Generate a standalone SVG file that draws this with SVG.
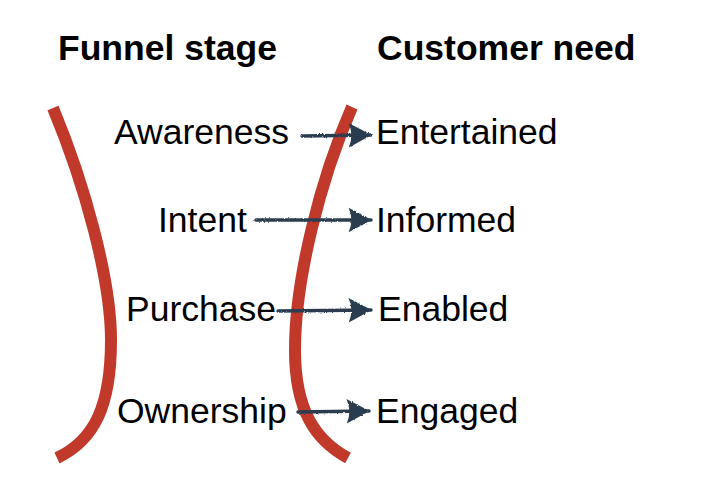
<svg xmlns="http://www.w3.org/2000/svg" width="702" height="496" viewBox="0 0 702 496">
<style>
.hd{font-family:"Liberation Sans",Arial,sans-serif;font-weight:bold;font-size:35.5px;fill:#000}
.lb{font-family:"Liberation Sans",Arial,sans-serif;font-size:35.5px;fill:#000}
.curve{fill:none;stroke:#c0392b;stroke-width:12}
.arr{fill:none;stroke:#2c3e50;stroke-width:3.5;stroke-linecap:round}
.rough{filter:url(#rough)}
</style>
<defs>
<filter id="rough" filterUnits="userSpaceOnUse" x="0" y="0" width="702" height="496">
<feTurbulence type="fractalNoise" baseFrequency="0.9" numOctaves="2" seed="3" result="n"/>
<feDisplacementMap in="SourceGraphic" in2="n" scale="2.5" xChannelSelector="R" yChannelSelector="G"/>
</filter>
<marker id="ah" markerWidth="8" markerHeight="8" refX="6.4" refY="3.5" orient="auto" markerUnits="strokeWidth" overflow="visible">
<path d="M0,0 L6.6,3.5 L0,7 Q1.6,3.5 0,0 Z" fill="#2c3e50"/>
</marker>
</defs>
<rect width="702" height="496" fill="#fff"/>
<g id="curves">
<path class="curve" d="M53 108 C85 185,111 280,111 340 C111 405,95 440,57 458"/>
<path class="curve" d="M352 107 C320 180,295 280,295 350 C295 410,315 440,348 458"/>
</g>
<g id="headers">
<text class="hd" x="58" y="60">Funnel stage</text>
<text class="hd" x="377" y="60">Customer need</text>
</g>
<g id="connectors" class="rough">
<path class="arr" d="M302 136 L371 135" marker-end="url(#ah)"/>
<path class="arr" d="M256 220 L371 220" marker-end="url(#ah)"/>
<path class="arr" d="M278 311 L371 310" marker-end="url(#ah)"/>
<path class="arr" d="M298 412 L369 411" marker-end="url(#ah)"/>
</g>
<g id="node-awareness"><text class="lb" x="114" y="144">Awareness</text></g>
<g id="node-intent"><text class="lb" x="158" y="232">Intent</text></g>
<g id="node-purchase"><text class="lb" x="126" y="321">Purchase</text></g>
<g id="node-ownership"><text class="lb" x="117" y="423">Ownership</text></g>
<g id="node-entertained"><text class="lb" x="376" y="144">Entertained</text></g>
<g id="node-informed"><text class="lb" x="376" y="232">Informed</text></g>
<g id="node-enabled"><text class="lb" x="378" y="321">Enabled</text></g>
<g id="node-engaged"><text class="lb" x="376" y="423">Engaged</text></g>
</svg>
